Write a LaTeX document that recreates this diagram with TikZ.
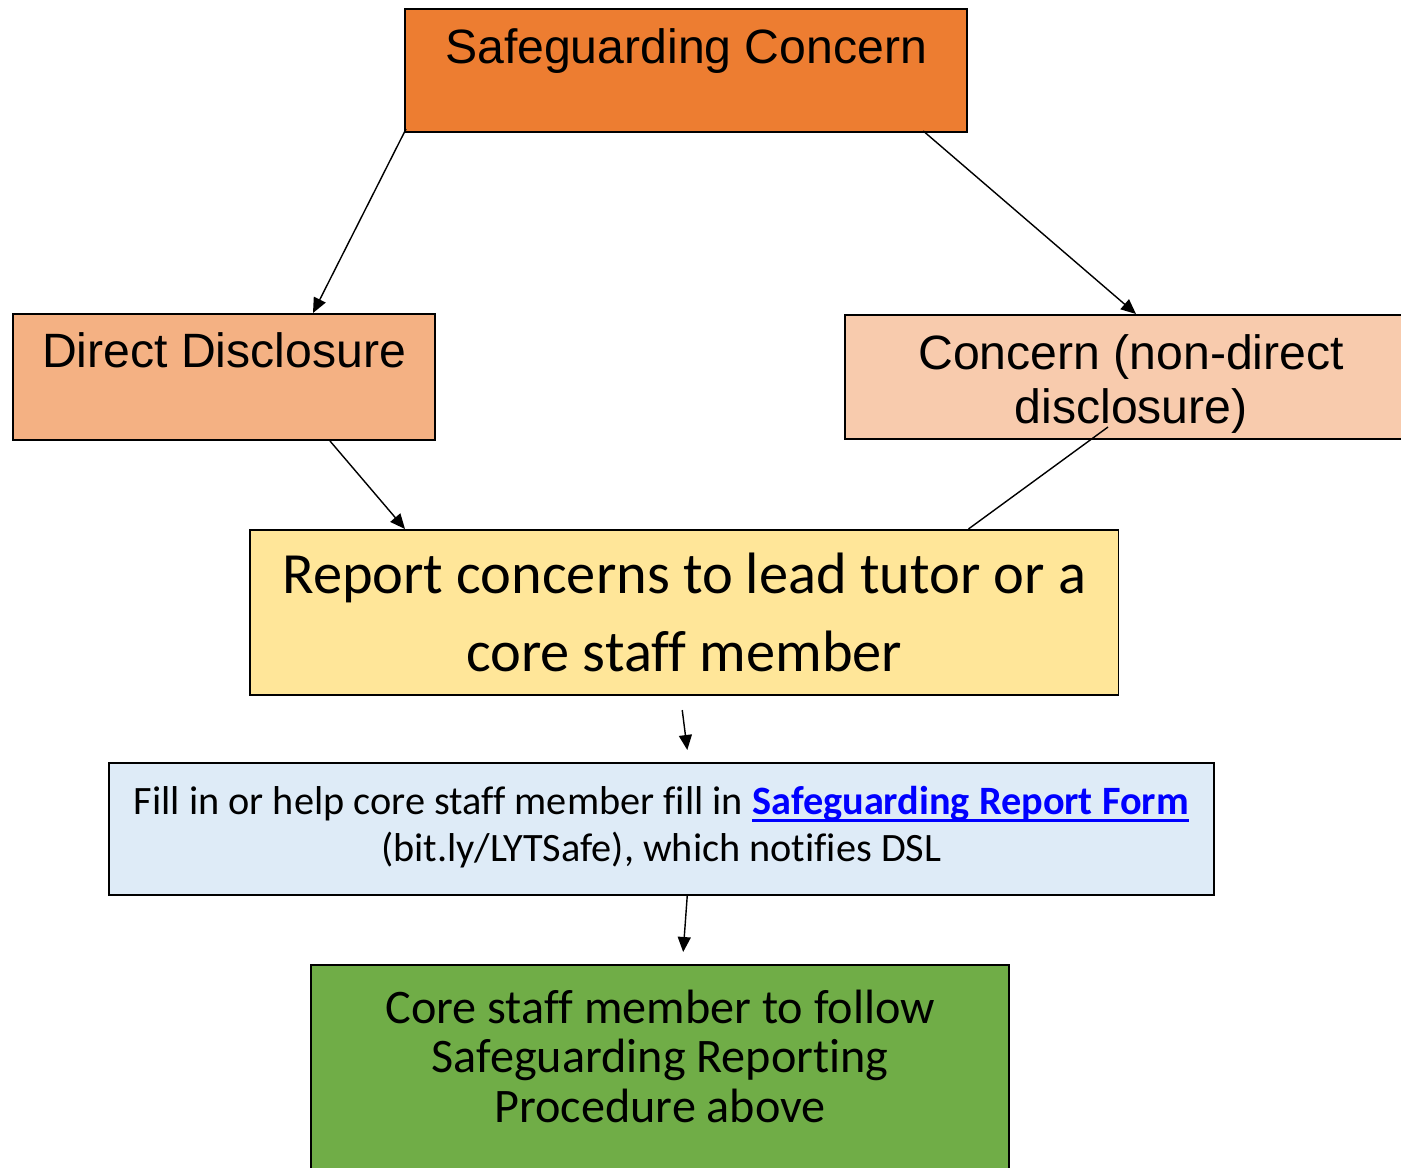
\documentclass[tikz,border=0pt]{standalone}
\usepackage{fontspec}
\setmainfont{Liberation Sans}
\newfontfamily\calibrifont[Ligatures=NoCommon]{Carlito}
\usetikzlibrary{arrows.meta}
\definecolor{sgorange}{HTML}{ED7D31}
\definecolor{sgpeach}{HTML}{F4B183}
\definecolor{sglight}{HTML}{F8CBAD}
\definecolor{sgyellow}{HTML}{FFE699}
\definecolor{sgblue}{HTML}{DEEBF7}
\definecolor{sggreen}{HTML}{70AD47}
\definecolor{sglink}{HTML}{0000FF}
\newsavebox{\sglinkbox}
\newcommand{\sglinktext}[1]{\sbox{\sglinkbox}{#1}%
  \rlap{\rule[-2.2pt]{\wd\sglinkbox}{0.9pt}}\usebox{\sglinkbox}}
\tikzset{
  sg_box/.style = {draw=black, line width=0.55pt, inner sep=0pt, anchor=north west,
    align=flush center},% every box, placed by its top left corner
  sg_arial/.style = {sg_box, font={\fontsize{13.7pt}{15.6pt}\selectfont}},
  sg_report/.style = {sg_box, font={\calibrifont\fontsize{16.6pt}{22.2pt}\selectfont}},
  sg_form/.style = {sg_box, font={\calibrifont\fontsize{11.45pt}{13.4pt}\selectfont}},
  sg_follow/.style = {sg_box, font={\calibrifont\fontsize{13.7pt}{14.2pt}\selectfont}},
  sg_arrow/.style = {-{Triangle[length=1.5mm,width=1.3mm]}, line width=0.4pt},
  sg_line/.style = {line width=0.4pt},
}

\begin{document}
\begin{tikzpicture}[x=0.01cm, y=-0.01cm]
  \useasboundingbox (0,0) rectangle (1401,1167);
  \clip (0,0) rectangle (1401,1167);

  \node[sg_arial, fill=sgorange, text width=5.62cm, text height=0.55cm, text depth=0.68cm]
    (concern) at (404,8) {Safeguarding Concern};

  \node[sg_arial, fill=sgpeach, text width=4.22cm, text height=0.54cm, text depth=0.72cm]
    (direct) at (12,313) {Direct Disclosure};
  \node[sg_arial, fill=sglight, text width=5.72cm, text height=0.54cm, text depth=0.70cm]
    (nondirect) at (844,314) {Concern (non-direct\\disclosure)};

  \node[sg_report, fill=sgyellow, text width=8.68cm, text height=0.63cm, text depth=1.02cm]
    (report) at (249,529) {Report concerns to lead tutor or a\\core staff member};

  \node[sg_form, fill=sgblue, text width=11.04cm, text height=0.51cm, text depth=0.81cm]
    (form) at (108,762) {Fill in or help core staff member fill in
    \textcolor{sglink}{\sglinktext{\textbf{Safeguarding Report Form}}}\\
    (bit.ly/LYTSafe), which notifies DSL};

  \node[sg_follow, fill=sggreen, text width=6.98cm, text height=0.58cm, text depth=1.73cm]
    (follow) at (310,964) {Core staff member to follow\\Safeguarding Reporting\\Procedure above};

  % the two kinds of concern
  \draw[sg_arrow] ([shift={(2,-4)}]concern.south west) -- ([shift={(301,0)}]direct.north west);
  \draw[sg_arrow] ([shift={(-45,-2)}]concern.south east) -- ([shift={(292,0)}]nondirect.north west);
  % both lead to the report
  \draw[sg_arrow] ([shift={(318,0)}]direct.south west) -- ([shift={(156,0)}]report.north west);
  \draw[sg_line] ([shift={(264,-13)}]nondirect.south west) -- ([shift={(-151,0)}]report.north east);
  % then the form, then the procedure
  \draw[sg_arrow] ([shift={(-2,14)}]report.south) -- ([shift={(26,-12)}]form.north);
  \draw[sg_arrow] ([shift={(26,-1)}]form.south) -- ([shift={(23,-12)}]follow.north);
\end{tikzpicture}
\end{document}
